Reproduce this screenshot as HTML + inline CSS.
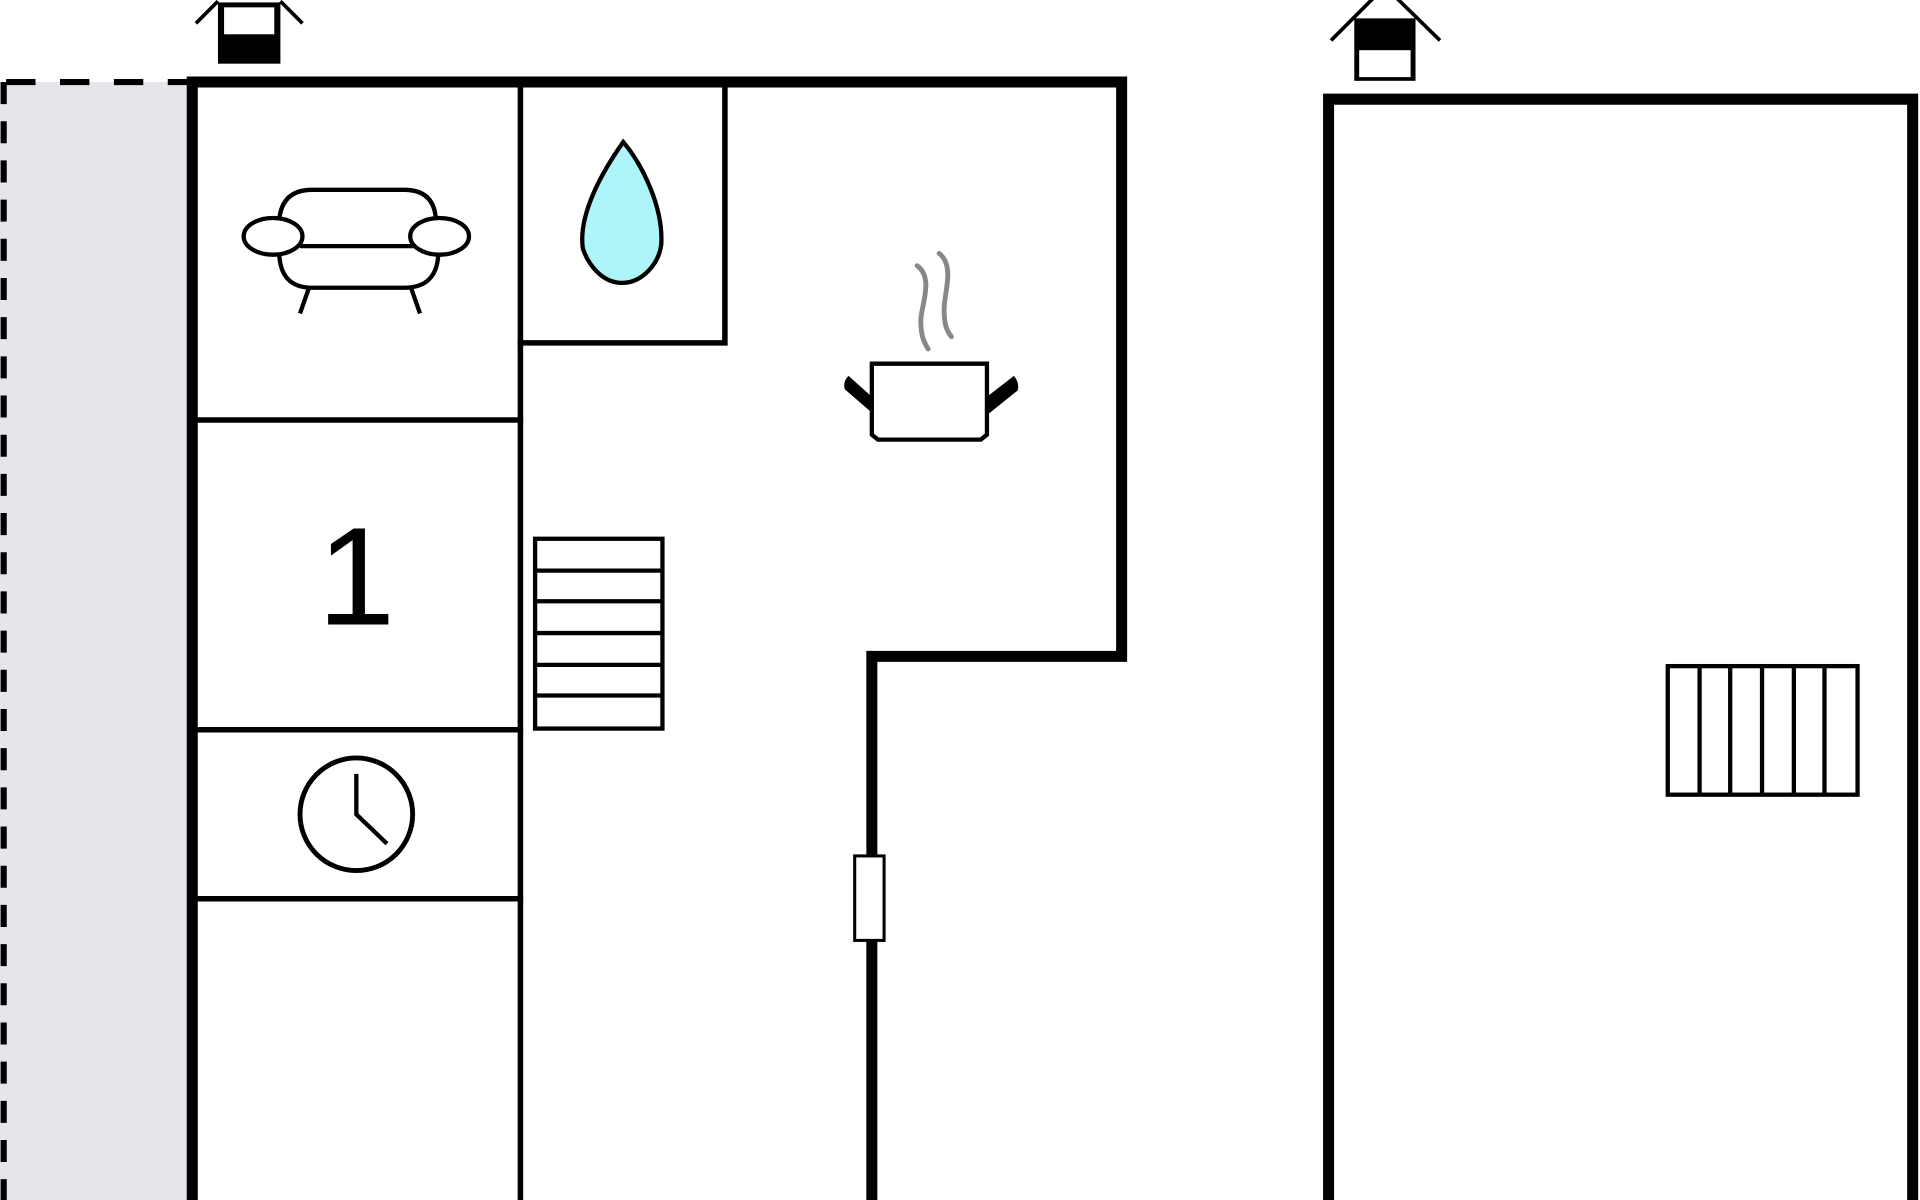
<!DOCTYPE html>
<html><head><meta charset="utf-8"><style>
html,body{margin:0;padding:0;background:#fff;width:1920px;height:1200px;overflow:hidden}
svg{display:block}
</style></head><body>
<svg width="1920" height="1200" viewBox="0 0 1568 980" xmlns="http://www.w3.org/2000/svg">
<rect x="0" y="67" width="157" height="913" fill="#e6e6ea"/>
<line x1="3" y1="67" x2="3" y2="980" stroke="#000" stroke-width="5" stroke-dasharray="18,14"/>
<line x1="5" y1="67" x2="155" y2="67" stroke="#000" stroke-width="5" stroke-dasharray="24,20"/>
<g stroke="#000" fill="none" stroke-linecap="square">
<path d="M157,980 V67 H916 V536 H712 V980" stroke-width="9"/>
<path d="M1085,980 V81 H1562 V980" stroke-width="9"/>
<g stroke-width="4.5">
<line x1="425" y1="70" x2="425" y2="980"/>
<line x1="160" y1="343" x2="425" y2="343"/>
<line x1="160" y1="596" x2="425" y2="596"/>
<line x1="160" y1="734" x2="425" y2="734"/>
<path d="M592,70 V280 H425"/>
</g>
</g>
<rect x="178" y="2" width="51" height="50" fill="#000"/>
<rect x="183" y="6" width="41" height="22" fill="#fff"/>
<path d="M160,19 L178,1 M229,1 L247,19" stroke="#000" stroke-width="3"/>
<rect x="1106" y="15" width="50" height="51" fill="#000"/>
<rect x="1110" y="41" width="42" height="22" fill="#fff"/>
<path d="M1087,33 L1131,-11 L1176,33" stroke="#000" stroke-width="3" fill="none"/>
<rect x="698" y="699" width="24" height="69" fill="#fff" stroke="#000" stroke-width="2.5"/>
<g stroke="#000" stroke-width="3.5" fill="none">
<rect x="437" y="440" width="104" height="155"/>
<line x1="437" y1="466" x2="541" y2="466"/><line x1="437" y1="491" x2="541" y2="491"/>
<line x1="437" y1="517" x2="541" y2="517"/><line x1="437" y1="543" x2="541" y2="543"/>
<line x1="437" y1="568" x2="541" y2="568"/>
<rect x="1362" y="544" width="155" height="105"/>
<line x1="1388" y1="544" x2="1388" y2="649"/><line x1="1413" y1="544" x2="1413" y2="649"/>
<line x1="1439" y1="544" x2="1439" y2="649"/><line x1="1465" y1="544" x2="1465" y2="649"/>
<line x1="1490" y1="544" x2="1490" y2="649"/>
</g>
<g stroke="#000" stroke-width="3.5" fill="#fff">
<path d="M228,180 Q230,155 255,155 H330 Q355,155 356,180"/>
<path d="M228,205 Q228,235 255,235 H330 Q358,235 358,205"/>
<line x1="245" y1="201" x2="340" y2="201"/>
<line x1="252" y1="236" x2="245" y2="256"/><line x1="336" y1="236" x2="343" y2="256"/>
<ellipse cx="223" cy="193" rx="24" ry="15"/>
<ellipse cx="359" cy="193" rx="24" ry="15"/>
</g>
<path d="M509,116 C525,135 542,170 540,200 C538,215 525,231 508,231 C491,231 480,215 476,203 C472,175 492,140 509,116 Z" fill="#aef5fa" stroke="#000" stroke-width="3.5"/>
<g stroke="#888" stroke-width="4" fill="none" stroke-linecap="round">
<path d="M749,217 C763,227 752,250 752,262 C752,275 755,280 758,285"/>
<path d="M767,207 C780,217 771,240 771,252 C771,265 773,270 777,275"/>
</g>
<path d="M712,297 H806 V355 L801,359 H717 L712,355 Z" fill="#fff" stroke="#000" stroke-width="3.5"/>
<path d="M712,324 L693,307 Q688,312 690,318 L712,337 Z" fill="#000"/>
<path d="M806,324 L828,307 Q833,313 831,319 L806,339 Z" fill="#000"/>
<text x="291" y="510" font-family="Liberation Sans, sans-serif" font-size="114" text-anchor="middle" fill="#000">1</text>
<circle cx="291" cy="665" r="46" fill="#fff" stroke="#000" stroke-width="4"/>
<path d="M291,632 V665 L316,689" stroke="#000" stroke-width="3.5" fill="none"/>
</svg>
</body></html>
